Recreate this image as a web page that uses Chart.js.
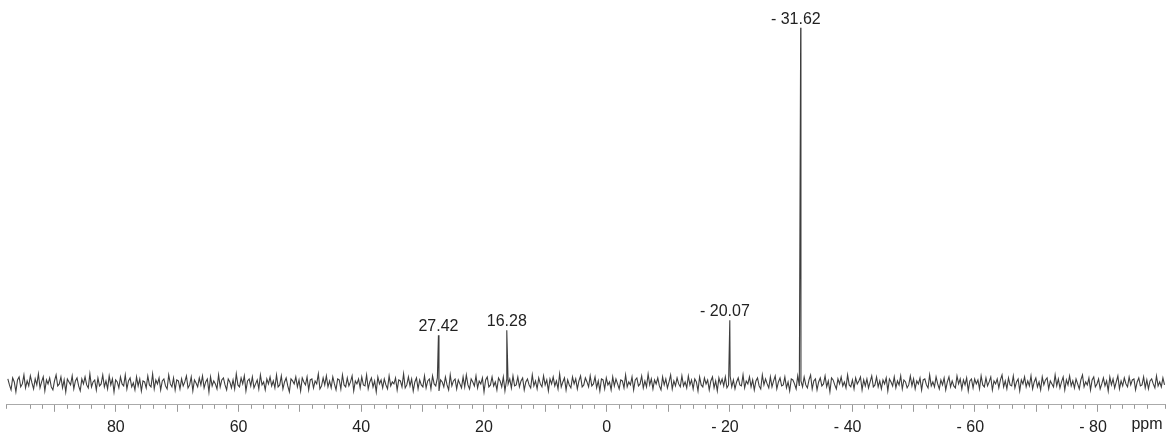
<!DOCTYPE html>
<html>
<head>
<meta charset="utf-8">
<script src="https://cdn.jsdelivr.net/npm/chart.js@4/dist/chart.umd.min.js"></script>
<style>
  html, body { margin: 0; background: #fff; overflow: hidden; }
  #wrap { width: 1171px; height: 443px; position: relative; }
</style>
</head>
<body>
<div id="wrap"><canvas id="nmrChart"></canvas></div>
<script>
// 31P spectrum, ppm axis runs right to left
const axisMin = -91.0;
const axisMax = 97.9;

// baseline noise, sampled evenly from noiseStart down in steps of noiseStep
const noiseStart = 97.6;
const noiseStep = 0.2622;
const noise = [
  4,-2,-7,5,1,-9,3,6,-4,-1,8,-5,2,-3,7,0,-6,4,-2,9,
  -5,1,6,-8,3,-1,5,-4,-7,2,8,-3,-1,6,-5,3,-9,4,1,-2,
  7,-6,2,5,-3,-8,4,-1,6,-2,-5,9,-4,1,3,-7,5,-3,-1,8,
  -4,2,-6,7,-2,4,-9,3,1,-5,6,-1,-3,8,-6,2,5,-4,0,-7,
  6,-3,4,-8,2,1,-5,7,-2,-4,9,-6,3,-1,5,-7,2,4,-3,-6,
  8,-1,-4,5,-7,3,2,-6,4,-3,1,7,-5,-2,6,-8,3,0,-4,5,
  -2,7,-5,1,4,-9,6,-3,2,-1,-6,8,-4,3,5,-2,-7,4,1,-5,
  3,-6,9,-2,-4,5,-1,7,-8,2,4,-3,6,-5,-1,3,-6,8,-2,1,
  -7,4,-1,6,-3,2,-5,8,-4,-2,7,-6,1,5,-3,-9,4,2,-1,6,
  -4,3,-8,5,1,-2,6,-7,3,4,-5,2,-1,9,-6,-3,5,-2,7,-4,
  2,-5,6,-1,-7,4,3,-6,8,-2,-4,5,-3,1,7,-8,2,-1,4,-5,
  6,-2,-3,8,-6,1,5,-4,2,-9,6,-1,3,-5,4,-2,-6,7,-3,1,
  -1,5,-7,3,2,-4,9,-5,-2,6,-3,4,-8,1,5,-6,3,-2,-4,7,
  -5,2,4,-6,7,-1,-3,5,-8,3,1,-4,6,-2,-7,8,-3,2,4,-6,
  3,-1,-5,6,-4,8,-2,-6,4,1,-3,7,-5,2,-1,5,-9,3,6,-4,
  -2,6,-3,1,-7,5,2,-4,6,-8,3,-1,4,-5,7,-3,-2,6,-4,2,
  5,-7,1,4,-2,-5,8,-3,2,-6,5,-1,-4,7,-2,3,-8,4,-1,6,
  -3,2,-6,9,-4,1,5,-7,3,-2,-5,6,-1,4,-6,2,7,-4,-2,5,
  1,-4,7,-3,-1,6,-5,2,-8,4,3,-6,5,-2,1,-7,6,-3,4,-1,
  -6,3,2,-5,8,-4,1,-2,6,-7,3,5,-3,-1,7,-5,2,-4,9,-2,
  4,-6,3,-1,5,-3,-7,6,-2,4,-5,1,8,-6,2,-3,5,-1,-4,7,
  -3,1,-5,7,-2,3,-6,4,1,-8,6,-2,-4,5,-1,3,-7,2,6,-5,
  2,-8,5,-1,4,-3,6,-5,-2,7,-4,3,-6,1,5,-2,-3,8,-5,2,
  -1,6,-4,3,-7,2,5,-3,-6,8,-2,4,-1,-5,6,-4,2,7,-6,1,
  5,-3,-2,6,-5,1,-8,4,3,-1,-6,7,-3,2,-4,6,-2,-5,3,8,
  -6,2,4,-7,1,5,-3,-1,7,-4,2,-9,5,3,-2,-6,4,-1,6,-3,
  1,-5,8,-2,-4,3,-6,5,-1,2,6,-7,3,-3,4,-5,1,7,-4,-2,
  6,-4,2,-6,3,-1,5,-8,4,1,-3,6,-5,2,-2,7,-6,3,1,-5,
  -2,7,-3,4,-6,2,-1,5,-7,3,4,-2,-5,8,-3,1,-4,6,-1,-6,
  3,-2,5,-7,1,6,-4,2,-3,-5,7,-1,4,-6,3,-2,5,-8,2,4,
  -5,4,-1,3,-6,7,-2,-4,5,-3,1,6,-7,2,-1,4,-5,3,8,-4,
  2,-6,5,-2,-3,7,-5,1,4,-8,3,-1,6,-4,2,-3,7,-6,1,5,
  -4,1,-7,6,-2,3,5,-6,2,-1,-4,8,-3,4,-5,1,6,-7,3,-2,
  7,-3,2,-5,4,-1,-6,3,8,-4,1,-2,5,-7,3,6,-4,-1,4,-6,
  -1,5,-3,2,-8,6,-2,4,-5,1,7,-6,2,-3,5,-1,-4,6,-2,3,
  4,-7,1,5,-3,-2,6,-5,3,-6,2,4,-1,-5,7,-3,1,-4,5,-2
];

// peaks
const peakPpm = [27.42, 16.28, -20.07, -31.62];
const peakHeight = [48, 53, 63, 357];

const points = noise.map((v, i) => ({ x: noiseStart - i * noiseStep, y: v }));
peakPpm.forEach((p, i) => points.push({ x: p, y: peakHeight[i] }));
points.sort((a, b) => b.x - a.x);

function ppmText(v) {
  return v < 0 ? '- ' + (-v) + '  ' : '' + v;
}

const fontFamily = '"Liberation Sans", Arial, sans-serif';

const peakLabels = {
  id: 'peakLabels',
  afterDraw(chart) {
    const ctx = chart.ctx;
    const xs = chart.scales.x, ys = chart.scales.y;
    ctx.save();
    ctx.font = '16px ' + fontFamily;
    ctx.fillStyle = '#222';
    ctx.textBaseline = 'alphabetic';
    peakPpm.forEach((p, i) => {
      const x = xs.getPixelForValue(p);
      const y = ys.getPixelForValue(peakHeight[i]) - 4;
      const num = Math.abs(p).toFixed(2);
      ctx.textAlign = 'center';
      ctx.fillText(num, x, y);
      if (p < 0) {
        ctx.textAlign = 'right';
        ctx.fillText('- ', x - ctx.measureText(num).width / 2, y);
      }
    });

    // minor ticks every 2 ppm
    ctx.strokeStyle = '#999';
    ctx.lineWidth = 1;
    xs.ticks.forEach(t => {
      if (t.value % 10 === 0) return;
      const x = Math.round(xs.getPixelForValue(t.value)) + 0.5;
      ctx.beginPath();
      ctx.moveTo(x, xs.top);
      ctx.lineTo(x, xs.top + 4);
      ctx.stroke();
    });

    // unit
    ctx.textAlign = 'center';
    ctx.textBaseline = 'middle';
    ctx.fillText('ppm', 1147, xs.top + 20);
    ctx.restore();
  }
};

new Chart(document.getElementById('nmrChart'), {
  type: 'line',
  data: {
    datasets: [{
      data: points,
      borderColor: 'rgba(40,40,40,0.9)',
      borderWidth: 1.1,
      pointRadius: 0,
      tension: 0
    }]
  },
  options: {
    responsive: true,
    maintainAspectRatio: false,
    animation: false,
    layout: { padding: 0 },
    plugins: { legend: { display: false }, tooltip: { enabled: false } },
    scales: {
      x: {
        type: 'linear',
        reverse: true,
        min: axisMin,
        max: axisMax,
        border: { display: true, color: '#aaa', width: 1 },
        grid: {
          drawOnChartArea: false,
          tickLength: 7,
          tickColor: c => (c.tick && c.tick.value % 10 === 0) ? '#999' : 'rgba(0,0,0,0)'
        },
        ticks: {
          stepSize: 2,
          autoSkip: false,
          maxRotation: 0,
          padding: 6,
          color: '#222',
          font: { family: fontFamily, size: 16 },
          callback: v => (v % 20 === 0 && v <= 80) ? ppmText(v) : ''
        }
      },
      y: {
        display: false,
        min: -22,
        max: 385
      }
    }
  },
  plugins: [peakLabels]
});
</script>
</body>
</html>
